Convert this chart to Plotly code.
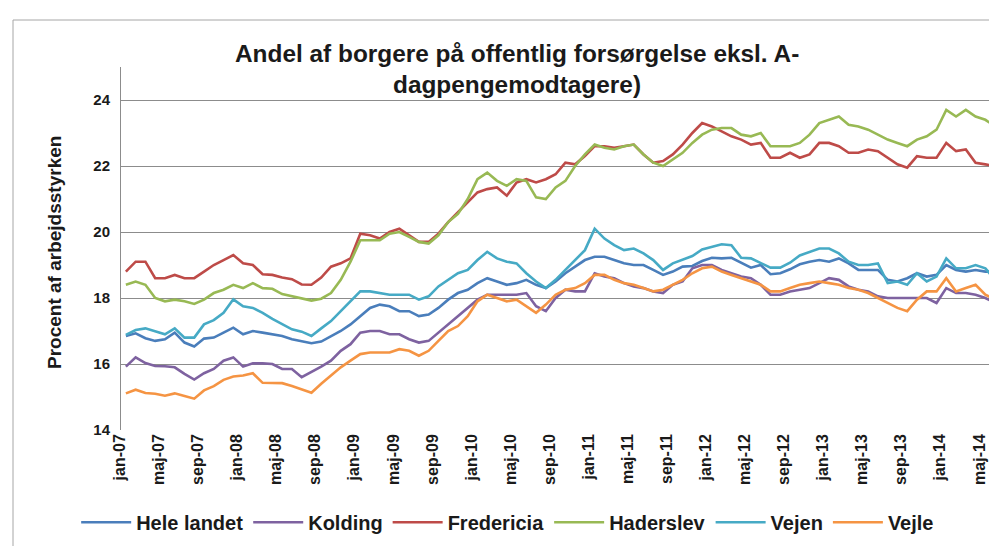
import plotly.graph_objects as go

month_names = ["jan", "feb", "mar", "apr", "maj", "jun", "jul", "aug", "sep", "okt", "nov", "dec"]
years = ["07", "08", "09", "10", "11", "12", "13", "14"]
categories = [f"{m}-{y}" for y in years for m in month_names][:90]
tick_labels = categories[::4]

hele_landet = [16.85, 16.93, 16.78, 16.7, 16.75, 16.95, 16.65, 16.53, 16.77, 16.8, 16.95, 17.1,
               16.9, 17.0, 16.95, 16.9, 16.85, 16.75, 16.68, 16.63, 16.68, 16.85, 17.0, 17.2,
               17.45, 17.7, 17.8, 17.75, 17.6, 17.6, 17.45, 17.5, 17.7, 17.95, 18.15, 18.25,
               18.45, 18.6, 18.5, 18.4, 18.45, 18.55, 18.4, 18.3, 18.5, 18.75, 18.95, 19.15,
               19.25, 19.25, 19.15, 19.05, 19.0, 19.0, 18.85, 18.7, 18.8, 18.95, 18.97, 19.12,
               19.22, 19.2, 19.22, 19.07, 18.92, 19.0, 18.72, 18.75, 18.87, 19.02, 19.1, 19.15,
               19.1, 19.2, 19.05, 18.85, 18.85, 18.85, 18.55, 18.5, 18.6, 18.75, 18.65, 18.7,
               19.0, 18.85, 18.8, 18.85, 18.8, 18.8]
kolding = [15.92, 16.2, 16.03, 15.94, 15.93, 15.9, 15.7, 15.53, 15.72, 15.85, 16.1, 16.2,
           15.92, 16.02, 16.02, 16.0, 15.85, 15.85, 15.6, 15.75, 15.92, 16.1, 16.4, 16.6,
           16.95, 17.0, 17.0, 16.9, 16.9, 16.75, 16.65, 16.7, 16.95, 17.2, 17.45, 17.7,
           17.95, 18.1, 18.1, 18.1, 18.1, 18.15, 17.75, 17.6, 18.0, 18.25, 18.2, 18.2,
           18.75, 18.65, 18.6, 18.45, 18.35, 18.3, 18.2, 18.15, 18.4, 18.5, 18.9, 19.0,
           19.0, 18.85, 18.75, 18.65, 18.6, 18.4, 18.1, 18.1, 18.2, 18.25, 18.3, 18.45,
           18.6, 18.55, 18.35, 18.25, 18.2, 18.05, 18.0, 18.0, 18.0, 18.0, 18.0, 17.85,
           18.3, 18.15, 18.15, 18.1, 18.0, 17.85]
fredericia = [18.8, 19.1, 19.1, 18.6, 18.6, 18.7, 18.6, 18.6, 18.8, 19.0, 19.15, 19.3,
              19.05, 19.0, 18.72, 18.7, 18.62, 18.57, 18.41, 18.4, 18.62, 18.95, 19.05, 19.2,
              19.95, 19.9, 19.8, 20.0, 20.1, 19.9, 19.7, 19.7, 19.95, 20.3, 20.6, 20.9,
              21.2, 21.3, 21.35, 21.1, 21.5, 21.6, 21.5, 21.6, 21.75, 22.1, 22.05, 22.3,
              22.6, 22.6, 22.55, 22.6, 22.65, 22.35, 22.1, 22.15, 22.35, 22.65, 23.0, 23.3,
              23.2, 23.05, 22.9, 22.8, 22.65, 22.7, 22.25, 22.25, 22.4, 22.25, 22.35, 22.7,
              22.7, 22.6, 22.4, 22.4, 22.5, 22.45, 22.25, 22.05, 21.95, 22.3, 22.25, 22.25,
              22.7, 22.45, 22.5, 22.1, 22.05, 22.0]
haderslev = [18.4, 18.5, 18.4, 18.0, 17.9, 17.95, 17.9, 17.82, 17.95, 18.15, 18.25, 18.4,
             18.3, 18.45, 18.3, 18.28, 18.12, 18.05, 17.98, 17.92, 17.98, 18.15, 18.55, 19.1,
             19.75, 19.75, 19.75, 19.95, 20.0, 19.85, 19.7, 19.65, 19.9, 20.3, 20.55, 21.0,
             21.6, 21.8, 21.55, 21.4, 21.6, 21.55, 21.05, 21.0, 21.35, 21.55, 22.0, 22.35,
             22.65, 22.55, 22.5, 22.6, 22.65, 22.35, 22.1, 22.0, 22.2, 22.4, 22.7, 22.95,
             23.1, 23.15, 23.15, 22.95, 22.9, 23.0, 22.6, 22.6, 22.6, 22.7, 22.95, 23.3,
             23.4, 23.5, 23.25, 23.2, 23.1, 22.95, 22.8, 22.7, 22.6, 22.8, 22.9, 23.1,
             23.7, 23.5, 23.7, 23.5, 23.4, 23.2]
vejen = [16.88, 17.03, 17.08, 16.98, 16.9, 17.08, 16.8, 16.8, 17.2, 17.33, 17.55, 17.96,
         17.75, 17.7, 17.55, 17.37, 17.2, 17.05, 16.98, 16.85, 17.08, 17.3, 17.6, 17.9,
         18.2, 18.2, 18.15, 18.1, 18.1, 18.1, 17.95, 18.05, 18.35, 18.55, 18.75, 18.85,
         19.15, 19.4, 19.2, 19.1, 19.05, 18.75, 18.5, 18.3, 18.55, 18.85, 19.15, 19.45,
         20.1, 19.8, 19.6, 19.45, 19.5, 19.35, 19.15, 18.85, 19.05, 19.15, 19.27, 19.47,
         19.56, 19.63, 19.6, 19.22, 19.2, 19.07, 18.92, 18.92, 19.07, 19.29, 19.4, 19.5,
         19.5, 19.35, 19.1, 19.0, 19.0, 19.05, 18.45, 18.5, 18.4, 18.75, 18.5, 18.65,
         19.2, 18.9, 18.9, 19.0, 18.9, 18.55]
vejle = [15.11, 15.22, 15.12, 15.1, 15.04, 15.11, 15.03, 14.95, 15.2, 15.33, 15.52, 15.62,
         15.65, 15.72, 15.43, 15.42, 15.42, 15.33, 15.23, 15.13, 15.4, 15.65, 15.9, 16.1,
         16.3, 16.35, 16.35, 16.35, 16.45, 16.4, 16.25, 16.4, 16.7, 17.0, 17.15, 17.45,
         17.9, 18.1, 18.0, 17.9, 17.95, 17.75, 17.55, 17.8, 18.1, 18.25, 18.3, 18.45,
         18.7, 18.7, 18.55, 18.45, 18.4, 18.3, 18.2, 18.25, 18.4, 18.55, 18.75, 18.9,
         18.95, 18.8, 18.7, 18.6, 18.5, 18.4, 18.2, 18.2, 18.3, 18.4, 18.45, 18.5,
         18.45, 18.4, 18.3, 18.25, 18.15, 18.0, 17.85, 17.7, 17.6, 17.95, 18.2, 18.2,
         18.6, 18.2, 18.3, 18.4, 18.1, 17.95]

series_names = ["Hele landet", "Kolding", "Fredericia", "Haderslev", "Vejen", "Vejle"]
series_values = [hele_landet, kolding, fredericia, haderslev, vejen, vejle]
series_colors = ["#4A7EBB", "#7E62A0", "#BE4B48", "#98B954", "#46AAC5", "#F59443"]

y_ticks = [14, 16, 18, 20, 22, 24]

FONT = "Liberation Sans"
TXT = "#1a1a1a"
W, H = 997, 546
L, R, T, B = 113, 5, 59, 124

fig = go.Figure()
for name, vals, col in zip(series_names, series_values, series_colors):
    fig.add_trace(go.Scatter(x=categories, y=vals, name=name, mode="lines",
                             line=dict(color=col, width=2.6)))

fig.update_layout(
    width=W, height=H,
    margin=dict(l=L, r=R, t=T, b=B, autoexpand=False),
    paper_bgcolor="white", plot_bgcolor="white",
    font=dict(family=FONT, color=TXT),
    showlegend=True,
    legend=dict(orientation="h", x=-0.051, xanchor="left", y=-0.254, yanchor="middle",
                font=dict(family=FONT, size=20, weight="bold", color=TXT),
                itemwidth=50, bgcolor="rgba(0,0,0,0)", tracegroupgap=0),
    xaxis=dict(type="category", categoryorder="array", categoryarray=categories,
               range=[-0.5, len(categories) - 0.5],
               tickmode="array", tickvals=tick_labels, ticktext=tick_labels,
               tickangle=-90, tickfont=dict(family=FONT, size=16, weight="bold", color=TXT),
               ticklabelshift=-6,
               showgrid=False, showline=False, zeroline=False, ticks=""),
    yaxis=dict(range=[14, 25], tickvals=y_ticks, ticktext=[str(v) for v in y_ticks],
               tickfont=dict(family=FONT, size=15, weight="bold", color=TXT),
               showgrid=True, gridcolor="#8c8c8c", gridwidth=1,
               showline=True, linecolor="#8c8c8c", linewidth=1,
               zeroline=False, ticks="", ticklabelstandoff=7),
)

plot_h = H - T - B
plot_w = W - L - R

def px_to_paper_y(py):
    return (H - B - py) / plot_h

def px_to_paper_x(px):
    return (px - L) / plot_w

fig.add_annotation(text="Andel af borgere på offentlig forsørgelse eksl. A-",
                   xref="paper", yref="paper", x=px_to_paper_x(509), y=px_to_paper_y(45),
                   xanchor="center", yanchor="middle", showarrow=False,
                   font=dict(family=FONT, size=24.4, weight="bold", color=TXT))
fig.add_annotation(text="dagpengemodtagere)",
                   xref="paper", yref="paper", x=px_to_paper_x(509), y=px_to_paper_y(76),
                   xanchor="center", yanchor="middle", showarrow=False,
                   font=dict(family=FONT, size=24.4, weight="bold", color=TXT))
fig.add_annotation(text="Procent af arbejdsstyrken", textangle=-90,
                   xref="paper", yref="paper", x=px_to_paper_x(46), y=px_to_paper_y(245),
                   xanchor="center", yanchor="middle", showarrow=False,
                   font=dict(family=FONT, size=19, weight="bold", color=TXT))

# outer chart border (left and top edges visible in the reference)
fig.add_shape(type="line", xref="paper", yref="paper",
              x0=px_to_paper_x(5), x1=px_to_paper_x(5), y0=px_to_paper_y(12), y1=px_to_paper_y(546),
              line=dict(color="#a6a6a6", width=1))
fig.add_shape(type="line", xref="paper", yref="paper",
              x0=px_to_paper_x(5), x1=px_to_paper_x(997), y0=px_to_paper_y(12), y1=px_to_paper_y(12),
              line=dict(color="#a6a6a6", width=1))

fig.write_html("out.html")
